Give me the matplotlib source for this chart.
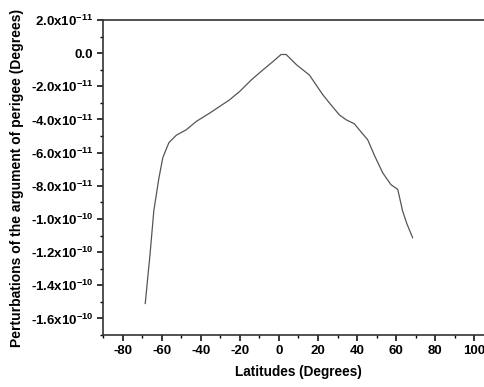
#!/usr/bin/env python3
"""Perturbations of the argument of perigee versus latitude."""

import matplotlib
matplotlib.use('Agg')
import matplotlib.pyplot as plt
from matplotlib.ticker import MultipleLocator, FixedLocator

plt.rcParams['font.family'] = ['Liberation Sans', 'DejaVu Sans']
plt.rcParams['mathtext.fontset'] = 'custom'
plt.rcParams['mathtext.rm'] = 'Liberation Sans:bold'
plt.rcParams['mathtext.it'] = 'Liberation Sans:bold'
plt.rcParams['mathtext.bf'] = 'Liberation Sans:bold'

# values
latitudes = [-68.4, -66.0, -64.0, -61.5, -59.4, -56.3, -52.5, -47.4, -42.3,
             -35.5, -30.4, -25.3, -20.0, -14.0, -8.3, -3.0, 1.1, 3.7,
             9.0, 15.6, 22.4, 26.5, 30.9, 34.4, 38.6, 42.0, 45.4, 49.0,
             53.1, 57.3, 60.8, 63.3, 65.5, 68.4]
perturbations = [-1.51e-10, -1.22e-10, -9.5e-11, -7.6e-11, -6.3e-11, -5.4e-11,
                 -4.95e-11, -4.62e-11, -4.12e-11, -3.62e-11, -3.22e-11, -2.82e-11,
                 -2.3e-11, -1.6e-11, -1.02e-11, -0.5e-11, -0.08e-11, -0.08e-11,
                 -0.7e-11, -1.32e-11, -2.5e-11, -3.1e-11, -3.72e-11, -4.02e-11,
                 -4.26e-11, -4.75e-11, -5.22e-11, -6.2e-11, -7.22e-11, -7.93e-11,
                 -8.22e-11, -9.53e-11, -1.03e-10, -1.113e-10]

x_ticks = [-80, -60, -40, -20, 0, 20, 40, 60, 80, 100]
y_ticks = [2.0e-11, 0.0, -2.0e-11, -4.0e-11, -6.0e-11, -8.0e-11,
           -1.0e-10, -1.2e-10, -1.4e-10, -1.6e-10]
y_tick_labels = ['2.0x10$^{-11}$', '0.0', '-2.0x10$^{-11}$', '-4.0x10$^{-11}$',
                 '-6.0x10$^{-11}$', '-8.0x10$^{-11}$', '-1.0x10$^{-10}$',
                 '-1.2x10$^{-10}$', '-1.4x10$^{-10}$', '-1.6x10$^{-10}$']

fig = plt.figure(figsize=(4.85, 3.87), dpi=100)
ax = fig.add_axes([0.2124, 0.1344, 0.806, 0.8139])

ax.plot(latitudes, perturbations, color='#555555', linewidth=0.9)

ax.set_xlim(-90, 110)
ax.set_ylim(-1.7e-10, 2.0e-11)

ax.xaxis.set_major_locator(FixedLocator(x_ticks))
ax.xaxis.set_minor_locator(MultipleLocator(10))
ax.yaxis.set_major_locator(FixedLocator(y_ticks))
ax.yaxis.set_minor_locator(MultipleLocator(1e-11))
ax.set_xticklabels([str(v) for v in x_ticks], fontsize=9.5, fontweight='bold')
ax.set_yticklabels(y_tick_labels, fontsize=9.5, fontweight='bold')

ax.tick_params(which='major', direction='out', length=4, width=1.1, pad=3)
ax.tick_params(which='minor', direction='out', length=2.5, width=1.0)

for side in ['left', 'bottom', 'top']:
    ax.spines[side].set_linewidth(1.2)
    ax.spines[side].set_color('#333333')
ax.spines['right'].set_visible(False)

ax.set_xlabel("Latitudes (Degrees)", fontsize=9.8, fontweight='bold', labelpad=6)
ax.set_ylabel("Perturbations of the argument of perigee (Degrees)",
              fontsize=10, fontweight='bold', labelpad=5)

plt.savefig('out.png', dpi=100)
plt.close()
